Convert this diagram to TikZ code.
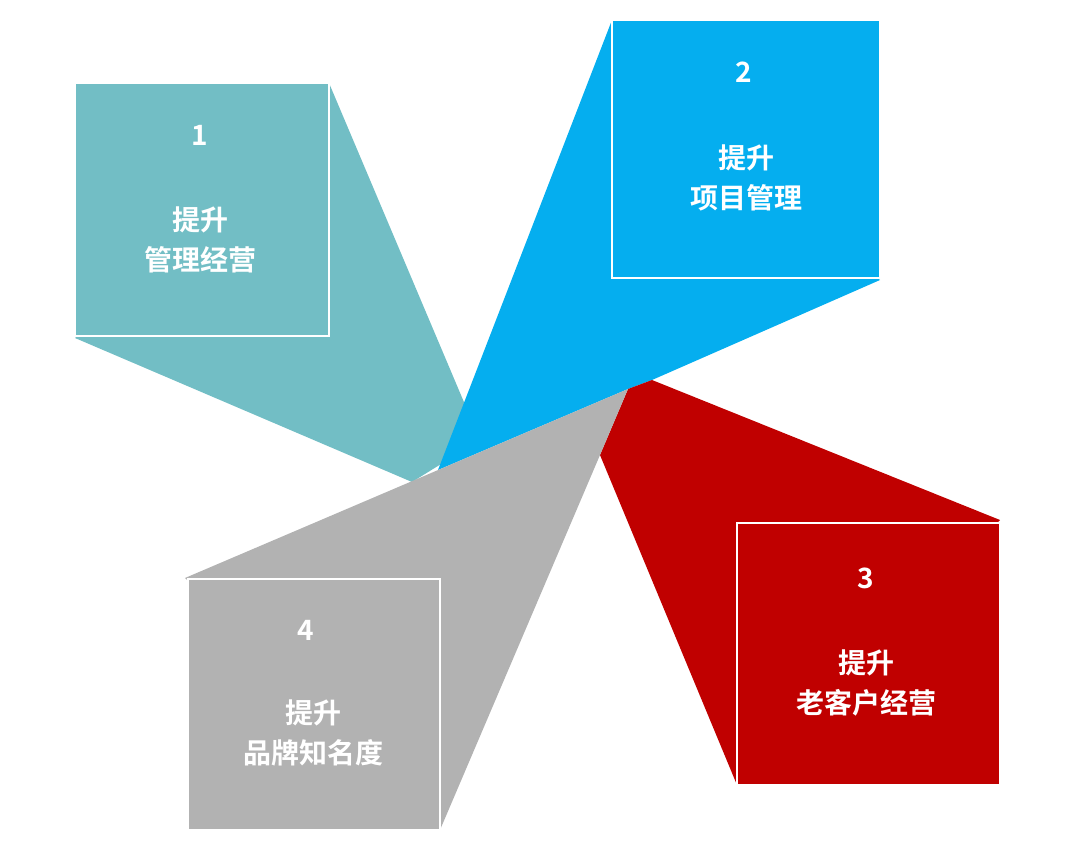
\documentclass[tikz,border=0pt]{standalone}
\usepackage{fontspec}
\newfontfamily\cjk{Noto Sans CJK SC}[BoldFont={* Bold}]
\definecolor{tealc}{HTML}{72BEC5}
\definecolor{bluec}{HTML}{05AEEF}
\definecolor{redc}{HTML}{C00000}
\definecolor{grayc}{HTML}{B2B2B2}
\begin{document}
\begin{tikzpicture}[x=1pt,y=-1pt,
    box/.style={draw=white,line width=2pt,fill=#1},
    lbl/.style={text=white,font=\cjk\bfseries\fontsize{28}{40}\selectfont,align=center}]
    \useasboundingbox (0,0) rectangle (1072,862);
    % fan blades
    \fill [tealc] (75,338) -- (329,83) -- (480,440) -- (412,482) -- cycle;
    \fill [bluec] (612,20) -- (880,280) -- (652,380) -- (628,389) -- (438,470) -- cycle;
    \fill [redc] (652,380) -- (1000,520) -- (737,785) -- (600,455) -- (628,389) -- cycle;
    \fill [grayc] (185,578) -- (628,389) -- (600,455) -- (440,830) -- cycle;
    % boxes
    \draw [box=tealc] (75,83) rectangle (329,336);
    \draw [box=bluec] (612,20) rectangle (880,278);
    \draw [box=redc] (737,523) rectangle (1000,785);
    \draw [box=grayc] (188,579) rectangle (440,830);
    % labels
    \node [lbl] (n1) at (200,135) {1};
    \node [lbl] (t1) at (200,240) {提升\\管理经营};
    \node [lbl] (n2) at (744,72) {2};
    \node [lbl] (t2) at (746,178) {提升\\项目管理};
    \node [lbl] (n3) at (866,578) {3};
    \node [lbl] (t3) at (866,683) {提升\\老客户经营};
    \node [lbl] (n4) at (306,630) {4};
    \node [lbl] (t4) at (313,733) {提升\\品牌知名度};
\end{tikzpicture}
\end{document}
